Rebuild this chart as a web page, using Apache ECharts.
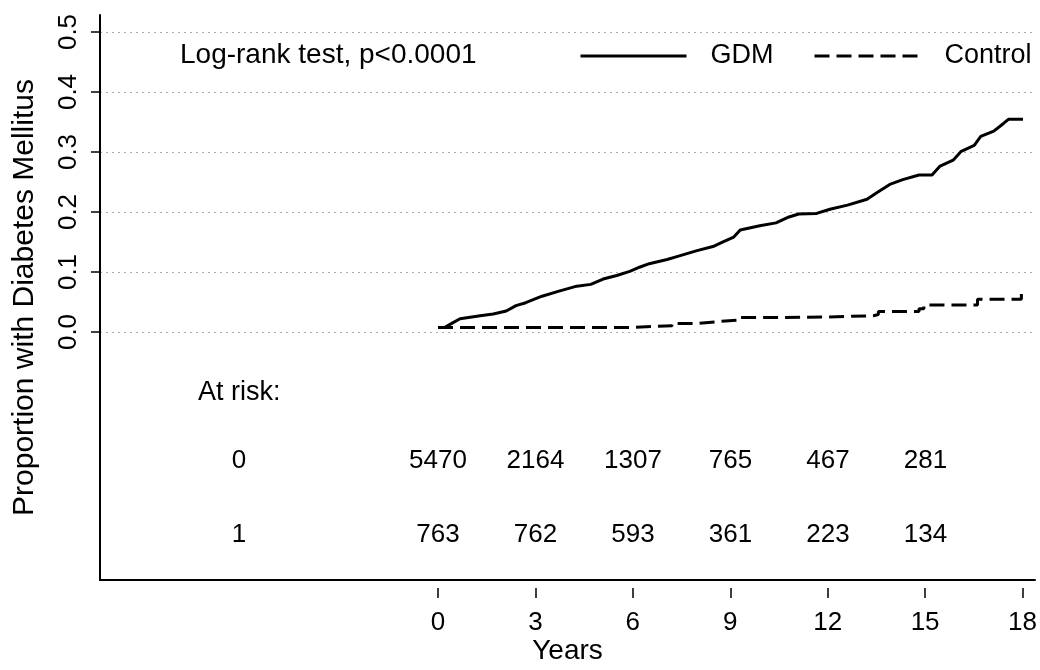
<!DOCTYPE html>
<html><head><meta charset="utf-8">
<script src="https://cdn.jsdelivr.net/npm/echarts@6/dist/echarts.min.js"></script>
<style>html,body{margin:0;padding:0;background:#fff}#c{width:1040px;height:670px}</style>
</head><body><div id="c"></div>
<script>
// ---- data ----
const gdmTime = [0.2, 0.45, 0.68, 1.3, 1.7, 2.1, 2.4, 2.7, 3.2, 3.75, 4.27, 4.7, 5.08, 5.5, 5.9, 6.2, 6.5, 7.05, 7.35, 7.97, 8.46, 8.77, 9.1, 9.3, 9.9, 10.4, 10.8, 11.1, 11.65, 12.06, 12.6, 13.2, 13.5, 13.9, 14.3, 14.8, 15.2, 15.45, 15.85, 16.1, 16.5, 16.7, 17.1, 17.4, 17.55, 18.0];
const gdmProb = [0, 0.008, 0.015, 0.02, 0.023, 0.028, 0.037, 0.042, 0.053, 0.062, 0.07, 0.073, 0.082, 0.088, 0.095, 0.102, 0.108, 0.115, 0.12, 0.13, 0.137, 0.145, 0.153, 0.165, 0.172, 0.177, 0.187, 0.192, 0.193, 0.2, 0.207, 0.217, 0.228, 0.242, 0.25, 0.258, 0.258, 0.273, 0.283, 0.298, 0.308, 0.323, 0.332, 0.345, 0.352, 0.352];
const ctrlTime = [0, 5.8, 7.2, 8.0, 8.6, 9.3, 10.5, 12.0, 13.4, 13.55, 14.8, 14.95, 16.6, 17.95];
const ctrlProb = [0, 0.003, 0.007, 0.01, 0.013, 0.017, 0.018, 0.02, 0.022, 0.027, 0.032, 0.038, 0.048, 0.062];
const seriesNames = ['GDM', 'Control'];
const riskTimes = [0, 3, 6, 9, 12, 15];
const riskGroups = ['0', '1'];
const riskRow0 = [5470, 2164, 1307, 765, 467, 281];
const riskRow1 = [763, 762, 593, 361, 223, 134];
const xTickMax = 18, xTickStep = 3;
const yTickMax = 0.5, yTickStep = 0.1;
const annotation = 'Log-rank test, p<0.0001';
const riskTitle = 'At risk:';
const xTitle = 'Years';
const yTitle = 'Proportion with Diabetes Mellitus';

// ---- layout (pixels) ----
const W = 1040, H = 670;
const PX_LEFT = 100, PX_RIGHT = 1035, PX_TOP = 15, PX_BOTTOM = 588;
const PX_X0 = 438, PX_XMAX = 1023, PX_Y0 = 332, PX_YMAX = 32;
const pxPerYear = (PX_XMAX - PX_X0) / xTickMax;
const pxPerUnit = (PX_Y0 - PX_YMAX) / yTickMax;
const xMin = -(PX_X0 - PX_LEFT) / pxPerYear;
const xMax = xTickMax + (PX_RIGHT - PX_XMAX) / pxPerYear;
const yMin = -(PX_BOTTOM - PX_Y0) / pxPerUnit;
const yMax = yTickMax + (PX_YMAX - PX_TOP) / pxPerUnit;
const ROW_Y = [-(467 - PX_Y0) / pxPerUnit, -(542 - PX_Y0) / pxPerUnit];
const GROUP_X = (239 - PX_X0) / pxPerYear;
const FONT = "'Liberation Sans', Arial, sans-serif";

const chart = echarts.init(document.getElementById('c'), null, {renderer: 'canvas'});

const hiddenAxis = (g) => ({gridIndex: g, type: 'value', min: 0, max: 1, show: false});

const labelStyle = {show: true, position: 'inside', fontSize: 26, fontFamily: FONT, color: '#000',
  textBorderWidth: 0, opacity: 1};
const riskSeries = [riskRow0, riskRow1].map((row, r) => ({
  type: 'scatter', xAxisIndex: 0, yAxisIndex: 0, silent: true,
  symbol: 'circle', symbolSize: 0.1, itemStyle: {color: 'rgba(0,0,0,0)'},
  data: riskTimes.map((t, i) => [t, ROW_Y[r], row[i]]),
  label: Object.assign({formatter: p => String(p.value[2])}, labelStyle)
}));
const groupSeries = {
  type: 'scatter', xAxisIndex: 0, yAxisIndex: 0, silent: true,
  symbol: 'circle', symbolSize: 0.1, itemStyle: {color: 'rgba(0,0,0,0)'},
  data: riskGroups.map((g, r) => [GROUP_X, ROW_Y[r], g]),
  label: Object.assign({formatter: p => p.value[2]}, labelStyle)
};

const legendBase = {
  orient: 'horizontal', top: 41, padding: 0, itemWidth: 106, itemHeight: 20,
  itemStyle: {opacity: 0}, lineStyle: {width: 3},
  textStyle: {fontSize: 27, color: '#000', fontFamily: FONT, padding: [0, 0, 0, 19], lineHeight: 30}
};

chart.setOption({
  animation: false,
  backgroundColor: '#fff',
  textStyle: {fontFamily: FONT},
  grid: [
    {left: PX_LEFT, right: W - PX_RIGHT, top: PX_TOP, bottom: H - PX_BOTTOM},
    {left: PX_X0, right: W - PX_XMAX, top: PX_TOP, bottom: H - PX_BOTTOM},
    {left: PX_LEFT, right: W - PX_RIGHT, top: PX_YMAX, bottom: H - PX_Y0}
  ],
  xAxis: [
    {gridIndex: 0, type: 'value', min: xMin, max: xMax,
      axisLine: {show: true, onZero: false, lineStyle: {color: '#000', width: 2}},
      axisTick: {show: false}, axisLabel: {show: false}, splitLine: {show: false},
      name: xTitle, nameLocation: 'middle', nameGap: 57,
      nameTextStyle: {fontSize: 28, color: '#000', fontFamily: FONT}},
    {gridIndex: 1, type: 'value', min: 0, max: xTickMax, interval: xTickStep,
      axisLine: {show: false},
      axisTick: {show: true, length: 10, lineStyle: {color: '#000', width: 1.5}},
      axisLabel: {fontSize: 26, color: '#000', margin: 22, fontFamily: FONT},
      splitLine: {show: false}},
    hiddenAxis(2)
  ],
  yAxis: [
    {gridIndex: 0, type: 'value', min: yMin, max: yMax,
      axisLine: {show: true, onZero: false, lineStyle: {color: '#000', width: 2}},
      axisTick: {show: false}, axisLabel: {show: false}, splitLine: {show: false},
      name: yTitle, nameLocation: 'middle', nameGap: 60,
      nameTextStyle: {fontSize: 30, color: '#000', fontFamily: FONT}},
    hiddenAxis(1),
    {gridIndex: 2, type: 'value', min: 0, max: yTickMax, interval: yTickStep,
      axisLine: {show: false},
      axisTick: {show: true, length: 9, lineStyle: {color: '#000', width: 1.5}},
      axisLabel: {rotate: 90, fontSize: 26, color: '#000', margin: 18, fontFamily: FONT,
        formatter: v => v.toFixed(1)},
      splitLine: {show: true, lineStyle: {color: '#aaa', width: 1, type: [2, 4]}}}
  ],
  legend: [
    Object.assign({data: [seriesNames[0]], left: 579}, legendBase),
    Object.assign({data: [seriesNames[1]], left: 813}, legendBase)
  ],
  graphic: [
    {type: 'text', x: 180, y: 55, silent: true,
      style: {text: annotation, fontSize: 28, fontFamily: FONT, fill: '#000', align: 'left', verticalAlign: 'middle'}},
    {type: 'text', x: 198, y: 393, silent: true,
      style: {text: riskTitle, fontSize: 27, fontFamily: FONT, fill: '#000', align: 'left', verticalAlign: 'middle'}}
  ],
  series: [
    {name: seriesNames[0], type: 'line', xAxisIndex: 0, yAxisIndex: 0,
      symbol: 'none', showSymbol: false, silent: true,
      lineStyle: {color: '#000', width: 3}, itemStyle: {color: '#000'},
      data: gdmTime.map((t, i) => [t, gdmProb[i]])},
    {name: seriesNames[1], type: 'line', xAxisIndex: 0, yAxisIndex: 0, step: 'end',
      symbol: 'none', showSymbol: false, silent: true,
      lineStyle: {color: '#000', width: 3, type: [15, 7]}, itemStyle: {color: '#000'},
      data: ctrlTime.map((t, i) => [t, ctrlProb[i]])},
    ...riskSeries,
    groupSeries
  ]
});
</script></body></html>
